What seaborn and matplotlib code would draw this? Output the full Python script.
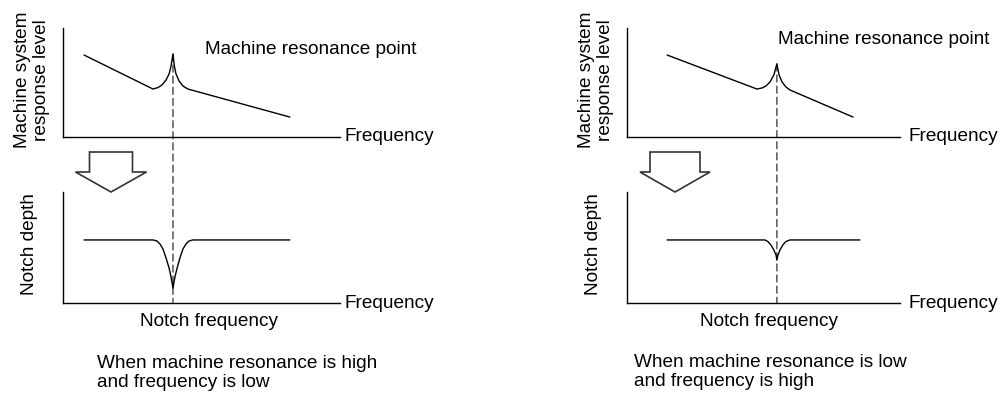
import pandas as pd
import seaborn as sns
import matplotlib.pyplot as plt
from matplotlib.patches import ConnectionPatch, Polygon

sns.set_style("white")
plt.rcParams['font.family'] = ['Liberation Sans', 'DejaVu Sans']

# response curves (frequency, level) in panel units 0..100
high_freq = [7.6, 32.5, 34.3, 35.7, 37.2, 38.3, 39.0, 39.7, 40.2, 40.8, 41.9, 43.3, 45.1, 81.9]
high_level = [75.2, 44.0, 45.4, 47.7, 52.3, 57.8, 65.1, 76.1, 65.1, 57.8, 51.4, 46.8, 44.0, 18.3]
high_notch_freq = [7.6, 32.5, 33.9, 35.0, 36.1, 37.2, 38.3, 39.0, 39.7,
                   40.4, 41.2, 42.2, 43.3, 44.4, 45.5, 46.9, 81.9]
high_notch_depth = [56.8, 56.8, 55.9, 53.2, 48.6, 40.5, 31.5, 23.4, 13.5,
                    23.4, 31.5, 40.5, 48.6, 53.2, 55.9, 56.8, 56.8]
high_resonance = 39.7

low_freq = [14.7, 47.6, 49.5, 50.9, 52.4, 53.8, 54.9, 55.7, 56.8, 58.2, 59.7, 82.8]
low_level = [75.2, 44.0, 45.0, 46.8, 50.5, 56.9, 67.0, 56.9, 50.5, 45.9, 43.1, 18.3]
low_notch_freq = [14.7, 50.5, 51.6, 52.7, 53.8, 54.6, 54.9, 55.3, 56.0, 57.1, 58.2, 59.7, 85.3]
low_notch_depth = [56.8, 56.8, 55.4, 52.3, 47.7, 43.2, 38.7, 43.2, 47.7, 52.3, 55.4, 56.8, 56.8]
low_resonance = 54.9

captions = ["When machine resonance is high\nand frequency is low",
            "When machine resonance is low\nand frequency is high"]

W, H = 1008, 399
fig = plt.figure(figsize=(W / 100, H / 100), dpi=100)


def px_axes(x0, y0, x1, y1):
    ax = fig.add_axes([x0 / W, 1 - y1 / H, (x1 - x0) / W, (y1 - y0) / H])
    ax.set_xlim(0, 100)
    ax.set_ylim(0, 100)
    ax.set_xticks([])
    ax.set_yticks([])
    sns.despine(ax=ax)
    for s in ['left', 'bottom']:
        ax.spines[s].set_color('black')
        ax.spines[s].set_linewidth(1.0)
    ax.patch.set_alpha(0)
    return ax


def ftext(x, y, s, **kw):
    fig.text(x / W, 1 - y / H, s, fontsize=13.7, color='black', **kw)


def arrow(cx, rect_w, head_w, top, base, tip):
    pts = [(cx - rect_w / 2, top), (cx + rect_w / 2, top), (cx + rect_w / 2, base),
           (cx + head_w / 2, base), (cx, tip), (cx - head_w / 2, base),
           (cx - rect_w / 2, base)]
    pts = [(x / W, 1 - y / H) for x, y in pts]
    fig.patches.append(Polygon(pts, closed=True, facecolor='white', edgecolor='#333333',
                               linewidth=1.2, transform=fig.transFigure))


panels = [
    dict(box=(63, 340), fx=high_freq, fy=high_level, nx=high_notch_freq, ny=high_notch_depth,
         res=high_resonance),
    dict(box=(627, 900), fx=low_freq, fy=low_level, nx=low_notch_freq, ny=low_notch_depth,
         res=low_resonance),
]

for p in panels:
    x0, x1 = p['box']
    ax_top = px_axes(x0, 28, x1, 137)
    ax_bot = px_axes(x0, 192, x1, 303)
    top_df = pd.DataFrame({'freq': p['fx'], 'level': p['fy']})
    bot_df = pd.DataFrame({'freq': p['nx'], 'depth': p['ny']})
    sns.lineplot(data=top_df, x='freq', y='level', ax=ax_top, sort=False, estimator=None,
                 color='black', linewidth=1.0)
    sns.lineplot(data=bot_df, x='freq', y='depth', ax=ax_bot, sort=False, estimator=None,
                 color='black', linewidth=1.0)
    for a in (ax_top, ax_bot):
        a.set_xlabel('')
        a.set_ylabel('')

    peak_y = p['fy'][p['fx'].index(p['res'])]
    con = ConnectionPatch(xyA=(p['res'], peak_y), coordsA=ax_top.transData,
                          xyB=(p['res'], 0), coordsB=ax_bot.transData,
                          linestyle=(0, (5, 3)), color='#444444', linewidth=1.0, zorder=0)
    fig.add_artist(con)

for x_off, res_xy, arr in [(0, (205, 50), (111, 43, 71)), (564, (778, 40), (675, 50, 70))]:
    ftext(32 + x_off, 80, "Machine system\nresponse level", rotation=90, ha='center',
          va='center', linespacing=1.1)
    ftext(res_xy[0], res_xy[1], "Machine resonance point", ha='left', va='center')
    ftext(345 + x_off, 137, "Frequency", ha='left', va='center')
    ftext(345 + x_off, 303, "Frequency", ha='left', va='center')
    ftext(30 + x_off, 244, "Notch depth", rotation=90, ha='center', va='center')
    ftext(209 + x_off - (4 if x_off else 0), 322, "Notch frequency", ha='center', va='center')
    arrow(arr[0], arr[1], arr[2], 152, 172, 192)

ftext(97, 373, captions[0], ha='left', va='center', linespacing=1.15)
ftext(634, 372, captions[1], ha='left', va='center', linespacing=1.15)

fig.savefig('out.png', dpi=100, facecolor='white')
